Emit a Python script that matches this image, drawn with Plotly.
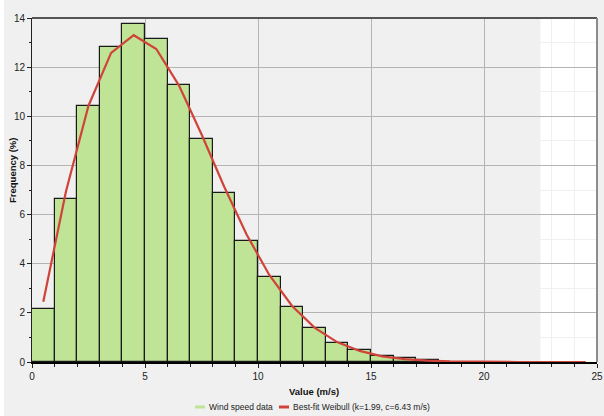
import plotly.graph_objects as go

# ---- data ----
bin_left = list(range(18))  # 1 m/s bins, 0..18
freq = [2.16, 6.65, 10.41, 12.83, 13.76, 13.14, 11.27, 9.09, 6.86, 4.94,
        3.46, 2.22, 1.40, 0.79, 0.49, 0.24, 0.18, 0.09]
fit_x = [0.5, 1.5, 2.5, 3.5, 4.5, 5.5, 6.5, 7.5, 8.5, 9.5, 10.5, 11.5, 12.5,
         13.5, 14.5, 15.5, 16.5, 17.5, 18.5, 19.5, 20.5, 21.5, 22.5, 23.5, 24.5]
fit_y = [2.45, 6.93, 10.43, 12.58, 13.30, 12.74, 11.26, 9.27, 7.14, 5.18,
         3.54, 2.29, 1.40, 0.81, 0.45, 0.23, 0.12, 0.055, 0.023, 0.009,
         0.003, 0.001, 0.0, 0.0, 0.0]
x_ticks = [0, 5, 10, 15, 20, 25]
y_ticks = [0, 2, 4, 6, 8, 10, 12, 14]
legend_names = ["Wind speed data", "Best-fit Weibull (k=1.99, c=6.43 m/s)"]
x_title = "Value (m/s)"
y_title = "Frequency (%)"

BAR_COLOR = "#bfe496"
LINE_COLOR = "#d0433a"
FONT = "Liberation Sans, Arial, sans-serif"

W, H = 604, 416
ML, MR, MT, MB = 32, 7, 18, 54
PW, PH = W - ML - MR, H - MT - MB


def px(p):
    return (p - ML) / PW


def py(y):
    return (H - MB - y) / PH


fig = go.Figure()
fig.add_trace(go.Bar(
    x=[b + 0.5 for b in bin_left], y=freq, width=1,
    marker=dict(color=BAR_COLOR, line=dict(color="#1a1a1a", width=1.2)),
    showlegend=False, hoverinfo="x+y"))
fig.add_trace(go.Scatter(
    x=fit_x, y=fit_y, mode="lines",
    line=dict(color=LINE_COLOR, width=2.2),
    showlegend=False))

shapes = [
    # white zone at the right of the plot area
    dict(type="rect", xref="x", yref="y", x0=22.5, x1=25, y0=0, y1=14,
         fillcolor="white", line=dict(width=0), layer="below"),
    # top border
    dict(type="line", xref="paper", yref="paper", x0=0, x1=1, y0=1, y1=1,
         line=dict(color="#555555", width=2), layer="above"),
    # right border
    dict(type="line", xref="paper", yref="paper", x0=1, x1=1, y0=0, y1=1,
         line=dict(color="#8c8c8c", width=2), layer="above"),
    # thin white strip at the far left of the image
    dict(type="rect", xref="paper", yref="paper", x0=px(0), x1=px(4),
         y0=py(H), y1=py(0), fillcolor="white", line=dict(width=0), layer="below"),
    # legend swatches
    dict(type="line", xref="paper", yref="paper", x0=px(195), x1=px(205),
         y0=py(407), y1=py(407), line=dict(color=BAR_COLOR, width=3)),
    dict(type="line", xref="paper", yref="paper", x0=px(279), x1=px(289),
         y0=py(407), y1=py(407), line=dict(color=LINE_COLOR, width=3)),
]

annotations = [
    dict(text=legend_names[0], xref="paper", yref="paper", x=px(207), y=py(407),
         xanchor="left", yanchor="middle", showarrow=False,
         font=dict(family=FONT, size=8.5, color="#222")),
    dict(text=legend_names[1], xref="paper", yref="paper", x=px(291), y=py(407),
         xanchor="left", yanchor="middle", showarrow=False,
         font=dict(family=FONT, size=8.5, color="#222")),
    dict(text="<b>" + x_title + "</b>", xref="paper", yref="paper", x=px(313.5),
         y=py(391), xanchor="center", yanchor="middle", showarrow=False,
         font=dict(family=FONT, size=9.5, color="#111")),
    dict(text="<b>" + y_title + "</b>", xref="paper", yref="paper", x=px(12),
         y=py(171), xanchor="center", yanchor="middle", showarrow=False,
         textangle=-90, font=dict(family=FONT, size=9.5, color="#111")),
]

fig.update_layout(
    width=W, height=H,
    margin=dict(l=ML, r=MR, t=MT, b=MB, pad=0, autoexpand=False),
    paper_bgcolor="#f0f0f0", plot_bgcolor="#f0f0f0",
    bargap=0, showlegend=False,
    font=dict(family=FONT, size=9, color="#222"),
    shapes=shapes, annotations=annotations,
    xaxis=dict(
        range=[0, 25], tickvals=x_ticks, ticks="outside", ticklen=4,
        tickcolor="#222", tickwidth=1, automargin=False,
        showgrid=True, gridcolor="#b4b4b4", gridwidth=1,
        minor=dict(dtick=1, tick0=0, ticks="outside", ticklen=3, tickcolor="#222",
                   showgrid=True, gridcolor="#f0f0f0", gridwidth=1),
        showline=True, linecolor="black", linewidth=2, zeroline=False,
        tickfont=dict(family=FONT, size=10, color="#222"),
        layer="below traces", fixedrange=True),
    yaxis=dict(
        range=[0, 14], tickvals=y_ticks, ticks="outside", ticklen=4,
        tickcolor="#222", tickwidth=1, automargin=False,
        showgrid=True, gridcolor="#b4b4b4", gridwidth=1,
        minor=dict(dtick=1, tick0=0, ticks="outside", ticklen=2, tickcolor="#222",
                   showgrid=True, gridcolor="#f0f0f0", gridwidth=1),
        showline=True, linecolor="#222", linewidth=1, zeroline=False,
        tickfont=dict(family=FONT, size=10, color="#222"),
        fixedrange=True),
)

fig.write_html("out.html")
